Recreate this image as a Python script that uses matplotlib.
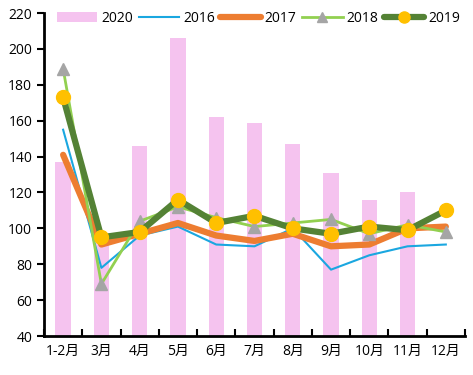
import matplotlib
matplotlib.use("Agg")
import matplotlib.pyplot as plt
import numpy as np

plt.rcParams['font.family'] = ['Open Sans', 'Noto Sans CJK SC', 'DejaVu Sans']

months = ['1-2月', '3月', '4月', '5月', '6月', '7月', '8月', '9月', '10月', '11月', '12月']
s2020 = [137, 92, 146, 206, 162, 159, 147, 131, 116, 120, np.nan]
s2016 = [155, 78, 96, 101, 91, 90, 100, 77, 85, 90, 91]
s2017 = [141, 91, 97, 103, 96, 93, 97, 90, 91, 100, 101]
s2018 = [189, 69, 104, 112, 106, 101, 103, 105, 97, 102, 98]
s2019 = [173, 95, 98, 116, 103, 107, 100, 97, 101, 99, 110]
yticks = [40, 60, 80, 100, 120, 140, 160, 180, 200, 220]

fig = plt.figure(figsize=(4.73, 3.75), dpi=100)
ax = fig.add_axes([0.093, 0.104, 0.89, 0.861])
x = np.arange(len(months))

hb = ax.bar(x, s2020, width=0.4, color='#F5C3EF', label='2020', zorder=1)
h16, = ax.plot(x, s2016, color='#1AA7E0', lw=1.5, label='2016', zorder=2)
h17, = ax.plot(x, s2017, color='#ED7D31', lw=4.5, label='2017', zorder=3, solid_capstyle='round')
h18, = ax.plot(x, s2018, color='#92D050', lw=2, marker='^', markersize=9,
        markerfacecolor='#A5A5A5', markeredgecolor='#A5A5A5', label='2018', zorder=4)
h19, = ax.plot(x, s2019, color='#548235', lw=4.5, marker='o', markersize=10,
        markerfacecolor='#FFC000', markeredgecolor='#FFC000', label='2019', zorder=5,
        solid_capstyle='round')

ax.set_xlim(-0.5, len(months) - 0.5)
ax.set_ylim(40, 220)
ax.set_yticks(yticks)
ax.set_xticks(x)
ax.set_xticklabels(months)
ax.set_xticks(np.arange(-0.5, len(months), 1), minor=True)
ax.tick_params(axis='x', which='major', length=0, labelsize=10, pad=6)
ax.tick_params(axis='x', which='minor', direction='in', length=5, width=1.5)
ax.tick_params(axis='y', direction='out', length=5, width=1.5, labelsize=10)
for s in ['top', 'right']:
    ax.spines[s].set_visible(False)
for s in ['left', 'bottom']:
    ax.spines[s].set_linewidth(2)

leg = ax.legend([hb, h16, h17, h18, h19], ['2020', '2016', '2017', '2018', '2019'],
          loc='upper center', bbox_to_anchor=(0.51, 1.045), ncol=5, frameon=False,
          fontsize=10, handlelength=2.9, columnspacing=0.4, handletextpad=0.3,
          handleheight=0.7, markerscale=0.8)

fig.savefig('out.png', dpi=100)
